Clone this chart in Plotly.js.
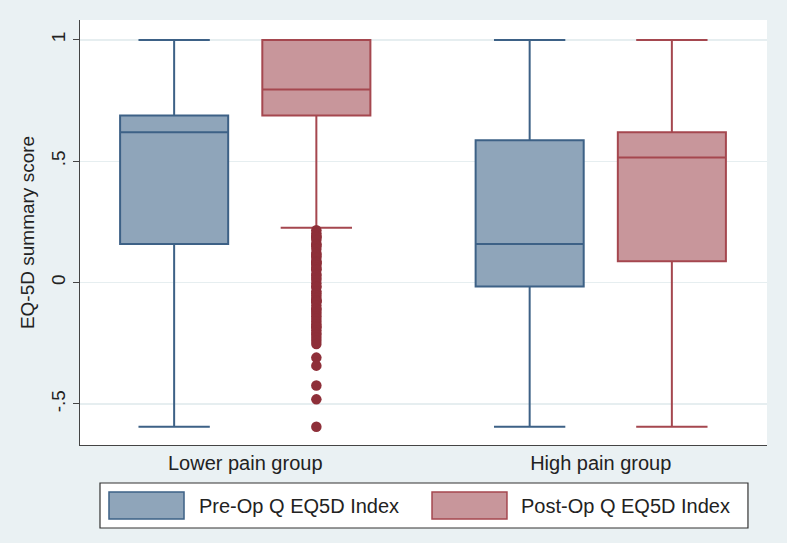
<!DOCTYPE html>
<html>
<head>
<meta charset="utf-8">
<script src="https://cdn.plot.ly/plotly-3.0.1.min.js"></script>
<style>
  html, body { margin: 0; padding: 0; background: #eaf1f3; }
  #chart { width: 787px; height: 543px; }
</style>
</head>
<body>
<div id="chart"></div>
<script>
// groups sit on a numeric axis so the outliers line up with their box
var groups = ["Lower pain group", "High pain group"];
var groupPos = [1.5, 4];
var prePos = [1, 3.5];
var postPos = [2, 4.5];

// Pre-Op Q EQ5D Index (lower pain, high pain)
var preMin = [-0.594, -0.594];
var preQ1 = [0.159, -0.016];
var preMed = [0.620, 0.159];
var preQ3 = [0.689, 0.587];
var preMax = [1, 1];

// Post-Op Q EQ5D Index
var postMin = [0.226, -0.594];
var postQ1 = [0.689, 0.088];
var postMed = [0.796, 0.516];
var postQ3 = [1, 0.620];
var postMax = [1, 1];

// outside values, post-op lower pain group
var postOutliers = [0.216, 0.203, 0.193, 0.189, 0.186, 0.176, 0.159, 0.157, 0.150, 0.139,
  0.122, 0.116, 0.109, 0.101, 0.088, 0.085, 0.081, 0.080, 0.073, 0.062, 0.055, 0.052,
  0.036, 0.029, 0.019, 0.011, -0.003, -0.016, -0.018, -0.036, -0.044, -0.053, -0.063,
  -0.073, -0.074, -0.077, -0.081, -0.094, -0.107, -0.111, -0.121, -0.129, -0.139,
  -0.149, -0.160, -0.171, -0.181, -0.184, -0.196, -0.208, -0.215, -0.227, -0.239,
  -0.253, -0.309, -0.342, -0.424, -0.481, -0.594];

var yTicks = [-0.5, 0, 0.5, 1];
var yTickText = ["-.5", "0", ".5", "1"];

var legendNames = ["Pre-Op Q EQ5D Index", "Post-Op Q EQ5D Index"];

var blueFill = "#8fa5ba", blueLine = "#3d6186";
var redFill = "#c8969b", redLine = "#a5474f";
var dotColor = "#8e2f39";
var font = "Liberation Sans, Arial, Helvetica, sans-serif";

var pre = {
  type: "box",
  x: prePos,
  q1: preQ1, median: preMed, q3: preQ3,
  lowerfence: preMin, upperfence: preMax,
  width: 0.76, whiskerwidth: 0.66,
  fillcolor: blueFill,
  line: {color: blueLine, width: 2},
  boxpoints: false,
  name: legendNames[0],
  showlegend: false,
  hoverinfo: "skip"
};

var post = {
  type: "box",
  x: postPos,
  q1: postQ1, median: postMed, q3: postQ3,
  lowerfence: postMin, upperfence: postMax,
  width: 0.76, whiskerwidth: 0.66,
  fillcolor: redFill,
  line: {color: redLine, width: 2},
  boxpoints: false,
  name: legendNames[1],
  showlegend: false,
  hoverinfo: "skip"
};

var outX = postOutliers.map(function() { return postPos[0]; });
var dots = {
  type: "scatter",
  mode: "markers",
  x: outX,
  y: postOutliers,
  marker: {color: dotColor, size: 10.5, line: {width: 0}},
  showlegend: false,
  hoverinfo: "skip"
};

// legend drawn by hand (Stata style wide keys)
var shapes = [
  {type: "rect", xref: "paper", yref: "paper", x0: 0.0291, x1: 0.9723, y0: -0.1953, y1: -0.0894,
   line: {color: "#333", width: 1.2}, fillcolor: "#ffffff", layer: "below"},
  {type: "rect", xref: "paper", yref: "paper", x0: 0.0422, x1: 0.1514, y0: -0.1741, y1: -0.1106,
   line: {color: blueLine, width: 1.5}, fillcolor: blueFill},
  {type: "rect", xref: "paper", yref: "paper", x0: 0.5124, x1: 0.6215, y0: -0.1741, y1: -0.1106,
   line: {color: redLine, width: 1.5}, fillcolor: redFill}
];

var annotations = [
  {xref: "paper", yref: "paper", x: 0.1703, y: -0.1424, xanchor: "left", yanchor: "middle",
   text: legendNames[0], showarrow: false, font: {family: font, size: 20, color: "#222"}},
  {xref: "paper", yref: "paper", x: 0.639, y: -0.1424, xanchor: "left", yanchor: "middle",
   text: legendNames[1], showarrow: false, font: {family: font, size: 20, color: "#222"}}
];

var layout = {
  width: 787,
  height: 543,
  margin: {l: 80, r: 20, t: 20, b: 98},
  paper_bgcolor: "#eaf1f3",
  plot_bgcolor: "#ffffff",
  font: {family: font, size: 20, color: "#222"},
  boxmode: "overlay",
  showlegend: false,
  xaxis: {
    range: [0.338, 5.169],
    tickvals: groupPos,
    ticktext: groups,
    ticks: "",
    showgrid: false,
    zeroline: false,
    showline: true,
    linecolor: "#444",
    linewidth: 1.2,
    tickfont: {size: 20}
  },
  yaxis: {
    range: [-0.669, 1.082],
    tickvals: yTicks,
    ticktext: yTickText,
    tickangle: -90,
    ticks: "outside",
    ticklen: 6,
    tickcolor: "#444",
    showline: true,
    linecolor: "#444",
    linewidth: 1.2,
    showgrid: true,
    gridcolor: "#e6eef0",
    gridwidth: 1.5,
    zeroline: false,
    tickfont: {size: 19},
    title: {text: "EQ-5D summary score", font: {size: 19}, standoff: 8}
  },
  shapes: shapes,
  annotations: annotations
};

Plotly.newPlot("chart", [pre, post, dots], layout, {staticPlot: true});
</script>
</body>
</html>
